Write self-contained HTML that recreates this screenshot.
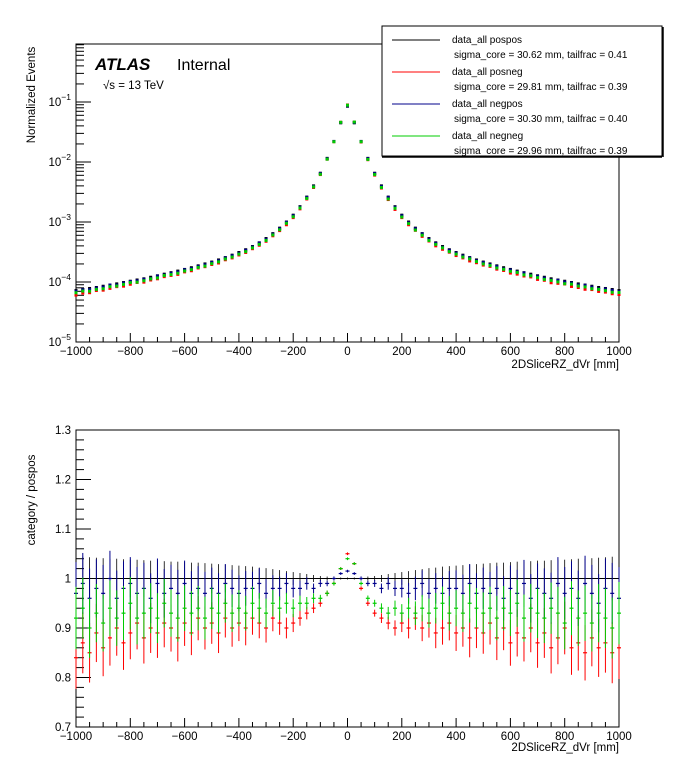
<!DOCTYPE html>
<html><head><meta charset="utf-8"><style>
html,body{margin:0;padding:0;background:#fff;}
svg{display:block;font-family:"Liberation Sans",Arial,sans-serif;}
</style></head><body>
<svg id="c" width="696" height="772" viewBox="0 0 696 772"></svg>
<script>
const binCenters=[];for(let i=0;i<=80;i++)binCenters.push(-1000+25*i);
const posposValues=[7.2e-5,7.5e-5,7.8e-5,8.1e-5,8.5e-5,8.9e-5,9.3e-5,9.8e-5,1.03e-4,1.08e-4,1.13e-4,1.2e-4,1.27e-4,1.35e-4,1.43e-4,1.52e-4,1.62e-4,1.73e-4,1.86e-4,2.0e-4,2.15e-4,2.33e-4,2.55e-4,2.8e-4,3.1e-4,3.45e-4,3.9e-4,4.5e-4,5.3e-4,6.4e-4,7.9e-4,1.0e-3,1.3e-3,1.8e-3,2.6e-3,4.0e-3,6.5e-3,1.15e-2,2.2e-2,4.5e-2,8.5e-2,
4.5e-2,2.2e-2,1.15e-2,6.5e-3,4.0e-3,2.6e-3,1.8e-3,1.3e-3,1.0e-3,7.9e-4,6.4e-4,5.3e-4,4.5e-4,3.9e-4,3.45e-4,3.1e-4,2.8e-4,2.55e-4,2.33e-4,2.15e-4,2.0e-4,1.86e-4,1.73e-4,1.62e-4,1.52e-4,1.43e-4,1.35e-4,1.27e-4,1.2e-4,1.13e-4,1.08e-4,1.03e-4,9.8e-5,9.3e-5,8.9e-5,8.5e-5,8.1e-5,7.8e-5,7.5e-5,7.2e-5];
const ratioPosneg=[0.84,0.87,0.85,0.89,0.86,0.88,0.9,0.87,0.89,0.91,0.88,0.9,0.89,0.91,0.9,0.88,0.91,0.89,0.92,0.9,0.91,0.89,0.92,0.9,0.91,0.9,0.92,0.91,0.9,0.92,0.91,0.9,0.91,0.92,0.93,0.94,0.95,0.97,0.99,1.02,1.05,
1.03,0.98,0.95,0.93,0.92,0.91,0.9,0.91,0.9,0.92,0.9,0.91,0.89,0.9,0.91,0.89,0.9,0.88,0.9,0.89,0.91,0.88,0.9,0.87,0.89,0.88,0.9,0.87,0.89,0.86,0.88,0.9,0.86,0.87,0.85,0.88,0.86,0.87,0.85,0.86];
const ratioNegpos=[0.97,0.99,0.96,0.98,0.97,1.0,0.96,0.98,0.99,0.97,0.98,0.96,0.99,0.97,0.98,0.97,0.99,0.97,0.98,0.97,0.98,0.97,0.99,0.98,0.97,0.98,0.98,0.99,0.97,0.98,0.98,0.99,0.98,0.98,0.99,0.98,0.99,0.99,1.0,1.01,1.015,
1.01,1.0,0.99,0.99,0.98,0.99,0.98,0.98,0.97,0.98,0.99,0.97,0.98,0.97,0.98,0.98,0.97,0.99,0.97,0.98,0.97,0.98,0.96,0.98,0.97,0.99,0.96,0.98,0.97,0.96,0.99,0.97,0.98,0.96,0.99,0.97,0.95,0.98,0.97,0.96];
const ratioNegneg=[0.92,0.94,0.9,0.93,0.91,0.94,0.92,0.93,0.95,0.92,0.93,0.94,0.92,0.95,0.93,0.92,0.94,0.93,0.94,0.92,0.94,0.93,0.95,0.93,0.94,0.93,0.95,0.94,0.93,0.95,0.94,0.95,0.94,0.95,0.95,0.96,0.96,0.97,0.99,1.02,1.04,
1.03,0.99,0.96,0.95,0.94,0.93,0.94,0.93,0.94,0.93,0.94,0.93,0.94,0.95,0.93,0.94,0.93,0.95,0.94,0.93,0.94,0.92,0.94,0.93,0.95,0.92,0.94,0.93,0.92,0.94,0.93,0.91,0.94,0.92,0.93,0.91,0.93,0.92,0.9,0.93];
const relErr=[0.045,0.044,0.043,0.042,0.041,0.040,0.040,0.039,0.038,0.038,0.037,0.036,0.036,0.035,0.034,0.034,0.033,0.032,0.032,0.031,0.030,0.029,0.028,0.027,0.026,0.025,0.024,0.022,0.021,0.019,0.017,0.015,0.013,0.011,0.009,0.007,0.005,0.004,0.003,0.002,0.002,
0.002,0.003,0.004,0.005,0.007,0.009,0.011,0.013,0.015,0.017,0.019,0.021,0.022,0.024,0.025,0.026,0.027,0.028,0.029,0.030,0.031,0.032,0.032,0.033,0.034,0.034,0.035,0.036,0.036,0.037,0.038,0.038,0.039,0.040,0.040,0.041,0.042,0.043,0.044,0.045];
const xTicks=[-1000,-800,-600,-400,-200,0,200,400,600,800,1000];
const logTicks=[-1,-2,-3,-4,-5];
const ratioTicks=[0.7,0.8,0.9,1,1.1,1.2,1.3];

const NS="http://www.w3.org/2000/svg",svg=document.getElementById('c');
function el(t,a,p){const e=document.createElementNS(NS,t);for(const k in a)e.setAttribute(k,a[k]);(p||svg).appendChild(e);return e;}
const L=76,R=619;
const sx=v=>L+(v+1000)/2000*(R-L);
const T1=44,B1=342; const sy1=v=>B1-(Math.log10(v)+5)*60;
const T2=430,B2=727; const sy2=v=>B2-(v-0.7)/0.6*(B2-T2);

// top frame
let g=el('g',{});
let f=el('rect',{x:L,y:T1,width:R-L,height:B1-T1,fill:'none',stroke:'#000','stroke-width':1},g);

// x ticks both panels
function xAxis(B,T,gp,name){
  const ga=el('g',{},gp);
  for(let v=-1000;v<=1000;v+=50){const x=sx(v),len=(v%200===0)?9:5;el('line',{x1:x,x2:x,y1:B,y2:B-len,stroke:'#000'},ga);}
  xTicks.forEach(v=>{const t=el('text',{x:sx(v),y:B+13,'font-size':11.5,'text-anchor':'middle'},ga);t.textContent=(v<0?'\u2212':'')+Math.abs(v);});
}
xAxis(B1,T1,g,'top-x-axis');
const gy=el('g',{},g);
for(let d=-5;d<0;d++){for(let m=1;m<10;m++){const v=m*Math.pow(10,d);const y=sy1(v);if(y<T1)continue;el('line',{x1:L,x2:L+(m===1?15:8),y1:y,y2:y,stroke:'#000'},gy);}}
logTicks.forEach(p=>{const y=sy1(Math.pow(10,p));const t=el('text',{x:L-5,y:y+4,'font-size':11.5,'text-anchor':'end'},gy);t.innerHTML='10<tspan dy="-6" font-size="8.5">\u2212'+(-p)+'</tspan>';});
let yl=el('text',{transform:'translate(35,95) rotate(-90)','font-size':11.5,'text-anchor':'middle'},g);yl.textContent='Normalized Events';

let xl=el('text',{x:R,y:368,'font-size':11.5,'text-anchor':'end'},g);xl.textContent='2DSliceRZ_dVr [mm]';

let at=el('text',{x:95,y:70,'font-size':17,'font-weight':'bold','font-style':'italic'},g);at.textContent='ATLAS';

let it=el('text',{x:177,y:70,'font-size':16},g);it.textContent='Internal';

let se=el('text',{x:103,y:89,'font-size':11.5},g);se.textContent='\u221As = 13 TeV';


const series=[{n:'pospos',c:'#000',r:null},{n:'posneg',c:'#f00',r:ratioPosneg},{n:'negpos',c:'#00008b',r:ratioNegpos},{n:'negneg',c:'#0c0',r:ratioNegneg}];
series.forEach(s=>{
  const gs=el('g',{},g);
  binCenters.forEach((x,i)=>{const v=posposValues[i]*(s.r?s.r[i]:1);const px=sx(x),py=sy1(v);
    const p=el('rect',{x:px-1.5,y:py-1.5,width:3,height:3,fill:s.c},gs);
    });
});

// bottom
const g2=el('g',{});
let f2=el('rect',{x:L,y:T2,width:R-L,height:B2-T2,fill:'none',stroke:'#000'},g2);

xAxis(B2,T2,g2,'ratio-x-axis');
const gy2=el('g',{},g2);
for(let k=0;k<=30;k++){const v=0.7+k*0.02;const y=sy2(v);el('line',{x1:L,x2:L+(k%5===0?15:8),y1:y,y2:y,stroke:'#000'},gy2);}
ratioTicks.forEach(v=>{const t=el('text',{x:L-5,y:sy2(v)+4,'font-size':11.5,'text-anchor':'end'},gy2);t.textContent=(v===1?'1':v.toFixed(1));});
let yl2=el('text',{transform:'translate(35,500) rotate(-90)','font-size':11.5,'text-anchor':'middle'},g2);yl2.textContent='category / pospos';

let xl2=el('text',{x:R,y:751,'font-size':11.5,'text-anchor':'end'},g2);xl2.textContent='2DSliceRZ_dVr [mm]';

// black pospos band
const gb=el('g',{},g2);
el('line',{x1:L,x2:R,y1:sy2(1),y2:sy2(1),stroke:'#000'},gb);
binCenters.forEach((x,i)=>{const px=sx(x);const l=el('line',{x1:px,x2:px,y1:sy2(1-relErr[i]),y2:sy2(1+relErr[i]),stroke:'#000','stroke-width':0.8},gb);
  });
series.slice(1).forEach(s=>{
  const gs=el('g',{},g2);
  binCenters.forEach((x,i)=>{const px=sx(x),v=s.r[i],e=relErr[i]*1.4;
    el('line',{x1:px,x2:px,y1:sy2(v-e),y2:sy2(v+e),stroke:s.c,'stroke-width':1},gs);
    const p=el('line',{x1:px-2,x2:px+2,y1:sy2(v),y2:sy2(v),stroke:s.c,'stroke-width':1.2},gs);
    });
});

// legend
const lg=el('g',{});
el('rect',{x:382,y:26,width:280,height:130,fill:'#fff',stroke:'#000'},lg);
el('line',{x1:382,x2:662,y1:157,y2:157,stroke:'#000','stroke-width':1.5},lg);
el('line',{x1:663,x2:663,y1:27,y2:157,stroke:'#000','stroke-width':1.5},lg);
const legNames=['data_all pospos','data_all posneg','data_all negpos','data_all negneg'];
const legInfo=['sigma_core = 30.62 mm, tailfrac = 0.41','sigma_core = 29.81 mm, tailfrac = 0.39','sigma_core = 30.30 mm, tailfrac = 0.40','sigma_core = 29.96 mm, tailfrac = 0.39'];
legNames.forEach((n,i)=>{const y=40+i*32;const e=el('g',{},lg);
  el('line',{x1:392,x2:440,y1:y,y2:y,stroke:series[i].c,'stroke-width':1},e);
  const t=el('text',{x:452,y:y+3,'font-size':10},e);t.textContent=n;
  const t2=el('text',{x:454,y:y+18,'font-size':10},e);t2.textContent=legInfo[i];});
</script>
</body></html>
